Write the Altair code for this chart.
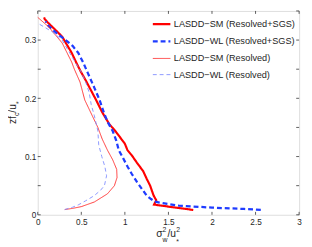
import altair as alt
import pandas as pd

# ---- data ----
series_names = [
    "LASDD\u2212SM (Resolved+SGS)",
    "LASDD\u2212WL (Resolved+SGS)",
    "LASDD\u2212SM (Resolved)",
    "LASDD\u2212WL (Resolved)",
]

sm_tot_x = [1.785, 1.55, 1.335, 1.36, 1.33, 1.29, 1.25, 1.21, 1.14, 1.08, 1.03, 1.0, 0.90,
            0.82, 0.74, 0.67, 0.61, 0.55, 0.49, 0.44, 0.39, 0.28, 0.185, 0.11, 0.08, 0.073]
sm_tot_y = [0.0083, 0.013, 0.0175, 0.025, 0.033, 0.05, 0.062, 0.075, 0.089, 0.102, 0.111, 0.122, 0.142,
            0.156, 0.176, 0.197, 0.214, 0.231, 0.247, 0.262, 0.278, 0.306, 0.32, 0.331, 0.336, 0.339]

wl_tot_x = [2.56, 2.37, 2.0, 1.62, 1.455, 1.36, 1.30, 1.25, 1.14, 1.08, 1.03, 0.97, 0.93, 0.90,
            0.86, 0.80, 0.76, 0.71, 0.65, 0.57, 0.52, 0.465, 0.40, 0.32, 0.20, 0.12, 0.09]
wl_tot_y = [0.0083, 0.010, 0.0123, 0.0157, 0.0195, 0.022, 0.027, 0.033, 0.056, 0.07, 0.083, 0.10, 0.111, 0.128,
            0.144, 0.16, 0.175, 0.197, 0.218, 0.245, 0.262, 0.278, 0.29, 0.30, 0.314, 0.325, 0.332]

sm_res_x = [0.31, 0.40, 0.50, 0.65, 0.80, 0.88, 0.91, 0.906, 0.86, 0.80, 0.74, 0.69, 0.61,
            0.54, 0.485, 0.42, 0.39, 0.28, 0.13, 0.0]
sm_res_y = [0.009, 0.011, 0.014, 0.022, 0.036, 0.05, 0.064, 0.078, 0.0945, 0.111, 0.13, 0.15, 0.175,
            0.197, 0.228, 0.25, 0.262, 0.295, 0.322, 0.339]

wl_res_x = [0.31, 0.40, 0.465, 0.55, 0.65, 0.72, 0.765, 0.79, 0.77, 0.735, 0.70, 0.69, 0.65,
            0.614, 0.59, 0.55, 0.50, 0.39, 0.28, 0.166, 0.08, 0.01]
wl_res_y = [0.009, 0.013, 0.017, 0.024, 0.033, 0.042, 0.05, 0.067, 0.083, 0.10, 0.12, 0.144, 0.17,
            0.189, 0.21, 0.228, 0.245, 0.272, 0.30, 0.314, 0.322, 0.328]

x_ticks = [0, 0.5, 1, 1.5, 2, 2.5, 3]
y_ticks = [0, 0.05, 0.1, 0.15, 0.2, 0.25, 0.3, 0.35]

# ---- build tables ----
rows = []
for name, xs, ys in zip(series_names,
                        [sm_tot_x, wl_tot_x, sm_res_x, wl_res_x],
                        [sm_tot_y, wl_tot_y, sm_res_y, wl_res_y]):
    for i, (xv, yv) in enumerate(zip(xs, ys)):
        rows.append({"series": name, "x": xv, "y": yv, "i": i})
df = pd.DataFrame(rows)
xt = pd.DataFrame({"t": x_ticks})
yt = pd.DataFrame({"t": y_ticks})

W, H = 268, 209
FONT = "Liberation Sans"
TXT = "#262626"

xscale = alt.Scale(domain=[0, 3], nice=False)
yscale = alt.Scale(domain=[0, 0.35], nice=False)

lines = alt.Chart(df).mark_line(strokeCap="butt").encode(
    x=alt.X("x:Q", scale=xscale,
            axis=alt.Axis(values=x_ticks, format="~g", title=None, tickSize=0, domain=False,
                          grid=False, labelPadding=3, labelFontSize=8.4, labelFont=FONT,
                          labelColor=TXT, labelFlush=False)),
    y=alt.Y("y:Q", scale=yscale,
            axis=alt.Axis(values=y_ticks, format="~g", title=None, tickSize=0, domain=False,
                          grid=False, labelPadding=2, labelFontSize=8.4, labelFont=FONT,
                          labelColor=TXT, labelFlush=False)),
    order="i:Q",
    color=alt.Color("series:N",
                    scale=alt.Scale(domain=series_names,
                                    range=["#ff0000", "#1f3cff", "#ff2020", "#7f8dff"]),
                    legend=alt.Legend(title=None, orient="none", legendX=116.5, legendY=3,
                                      symbolType="stroke", symbolSize=324, labelFont=FONT,
                                      labelFontSize=9.4, labelColor=TXT, labelOffset=2,
                                      rowPadding=2.6, padding=0)),
    strokeDash=alt.StrokeDash("series:N",
                              scale=alt.Scale(type="ordinal", domain=series_names,
                                              range=[[1, 0], [5, 3], [1, 0], [4, 3]])),
    strokeWidth=alt.StrokeWidth("series:N",
                                scale=alt.Scale(type="ordinal", domain=series_names,
                                                range=[2.2, 2.3, 0.9, 0.9])),
)

TICK = "#333333"
xtick_b = alt.Chart(xt).mark_rule(color=TICK, strokeWidth=0.8).encode(
    x=alt.X("t:Q", scale=xscale), y=alt.value(H), y2=alt.value(H - 3))
xtick_t = alt.Chart(xt).mark_rule(color=TICK, strokeWidth=0.8).encode(
    x=alt.X("t:Q", scale=xscale), y=alt.value(0), y2=alt.value(3))
ytick_l = alt.Chart(yt).mark_rule(color=TICK, strokeWidth=0.8).encode(
    y=alt.Y("t:Q", scale=yscale), x=alt.value(0), x2=alt.value(3))
ytick_r = alt.Chart(yt).mark_rule(color=TICK, strokeWidth=0.8).encode(
    y=alt.Y("t:Q", scale=yscale), x=alt.value(W), x2=alt.value(W - 3))

one = alt.Data(values=[{"a": 1}])


def piece(txt, x, y, size, angle=0):
    return alt.Chart(one).mark_text(text=txt, font=FONT, fontSize=size, color=TXT,
                                    align="left", baseline="alphabetic", angle=angle).encode(
        x=alt.value(x), y=alt.value(y))


MAIN, SUB = 10.5, 7
xtitle = [
    piece("\u03c3", 121.5, 232, MAIN),
    piece("2", 127.8, 227, SUB),
    piece("w", 127.8, 236.5, SUB),
    piece("/u", 133, 232, MAIN),
    piece("2", 142, 227, SUB),
    piece("*", 142, 238.5, SUB),
]
ytitle = [
    piece("zf", -22.5, 116, MAIN, 270),
    piece("c", -19, 107.8, SUB, 270),
    piece("/u", -22.5, 104.3, MAIN, 270),
    piece("*", -17.5, 95.5, SUB, 270),
]

chart = alt.layer(lines, xtick_b, xtick_t, ytick_l, ytick_r, *xtitle, *ytitle).properties(
    width=W, height=H, autosize="none",
    padding={"left": 30.5, "top": 0, "right": 5, "bottom": 30},
).configure_view(stroke="#333333", strokeWidth=1).configure(background="white")

chart.save("out.html", embed_options={"renderer": "svg", "actions": False})
